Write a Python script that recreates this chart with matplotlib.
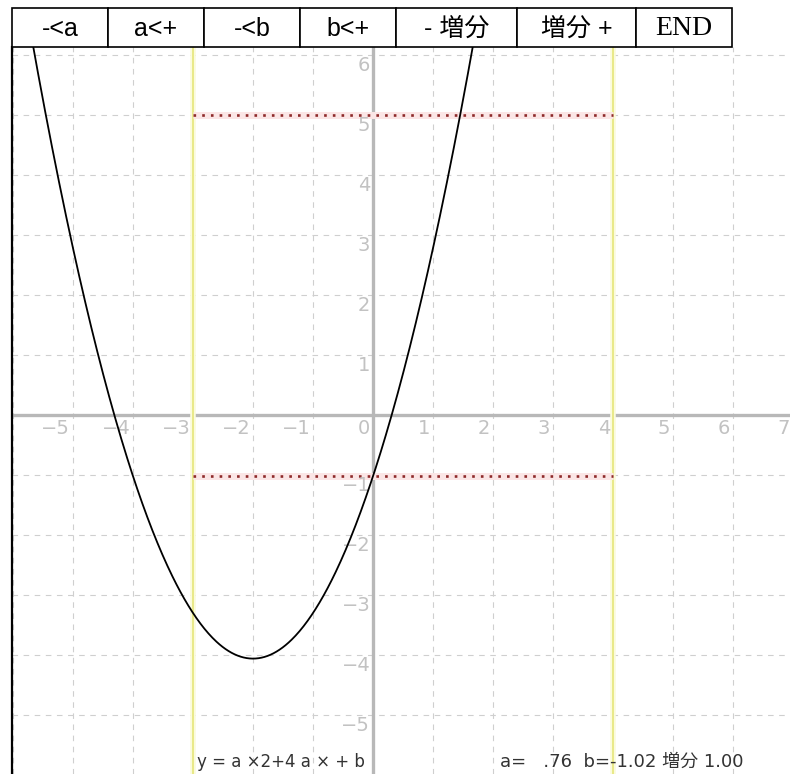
import matplotlib.pyplot as plt
import numpy as np

# coefficients of y = a*x^2 + 4*a*x + b shown at the bottom of the screen
a = 0.76
b = -1.02
step = 1.00

x_ticks = [-5, -4, -3, -2, -1, 0, 1, 2, 3, 4, 5, 6, 7]
y_ticks = [6, 5, 4, 3, 2, 1, -1, -2, -3, -4, -5]
range_x = [-3, 4]            # yellow vertical markers
levels_y = [5, b]            # red dotted horizontal markers

buttons = ["-<a", "a<+", "-<b", "b<+", "- 増分", "増分 +", "END"]
button_edges = [12, 108, 204, 300, 396, 517, 636, 732]   # pixel edges

W, H = 790, 774
fig = plt.figure(figsize=(W / 100, H / 100), dpi=100)
fig.patch.set_facecolor("white")

cjk = ["DejaVu Sans", "Noto Sans CJK JP"]
narrow = ["Liberation Sans Narrow", "DejaVu Sans"]

# ---- plot area ----
x0_px, top_px, bottom_px = 12, 47, 774
ax = fig.add_axes([x0_px / W, 1 - bottom_px / H, 1 - x0_px / W, (bottom_px - top_px) / H])
scale = 60.0      # px per unit
ox, oy = 373, 415  # origin in px
ax.set_xlim((x0_px - ox) / scale, (W - ox) / scale)
ax.set_ylim((oy - bottom_px) / scale, (oy - top_px) / scale)
ax.set_xticks([])
ax.set_yticks([])
for s in ["top", "right", "bottom"]:
    ax.spines[s].set_visible(False)
ax.spines["left"].set_linewidth(1.6)
ax.spines["left"].set_color("black")

for gx in range(-6, 8):
    ax.axvline(gx, color="#cfcfcf", lw=0.8, ls=(0, (5, 5)), zorder=1)
for gy in range(-6, 7):
    ax.axhline(gy, color="#cfcfcf", lw=0.8, ls=(0, (5, 5)), zorder=1)

ax.axhline(0, color="#b8b8b8", lw=2.4, zorder=2)
ax.axvline(0, color="#b8b8b8", lw=2.4, zorder=2)

for xv in range_x:
    ax.axvline(xv, color="#fbfbdc", lw=4, zorder=2)
    ax.axvline(xv, color="#e6e67a", lw=1.2, zorder=3)

for yv in levels_y:
    ax.plot(range_x, [yv, yv], color="#fbe6e6", lw=5, solid_capstyle="butt", zorder=3)
    ax.plot(range_x, [yv, yv], color="#8e2a2a", lw=1.9, ls=(0, (1, 2.3)), zorder=4)

for t in x_ticks:
    ax.annotate(f"{t}".replace("-", "−"), (t, 0), xytext=(-2, -3), textcoords="offset points",
                ha="right", va="top", fontsize=14, color="#c2c2c2", family=narrow, zorder=5,
                annotation_clip=False)
for t in y_ticks:
    ax.annotate(f"{t}".replace("-", "−"), (0, t), xytext=(-2, -1), textcoords="offset points",
                ha="right", va="top", fontsize=14, color="#c2c2c2", family=narrow, zorder=5,
                annotation_clip=False)

xs = np.linspace(-7, 3, 600)
ax.plot(xs, a * xs ** 2 + 4 * a * xs + b, color="black", lw=1.3, zorder=6)

fig.text(197 / W, 1 - 762 / H, "y = a ×2+4 a × + b", fontsize=12, color="#333333",
         family=cjk, ha="left", va="center")
fig.text(500 / W, 1 - 762 / H, f"a=  {a:.2f}".replace("0.", " .") + f"  b={b:.2f} 増分 {step:.2f}",
         fontsize=13, color="#333333", family=cjk, ha="left", va="center")

# ---- button row ----
bx = fig.add_axes([0, 0, 1, 1])
bx.set_xlim(0, W)
bx.set_ylim(H, 0)
bx.axis("off")
bx.patch.set_alpha(0)
btn_top, btn_bot = 8, 47
for i, label in enumerate(buttons):
    l, r = button_edges[i], button_edges[i + 1]
    bx.add_patch(plt.Rectangle((l, btn_top), r - l, btn_bot - btn_top, facecolor="white",
                               edgecolor="black", lw=1.2))
    if label == "END":
        fam, fs = ["Liberation Serif"], 20
    else:
        fam, fs = ["Liberation Sans", "Noto Sans CJK JP"], 18
    bx.text((l + r) / 2, (btn_top + btn_bot) / 2 + 1, label, ha="center", va="center",
            fontsize=fs, family=fam, color="black")

fig.savefig("out.png", dpi=100)
